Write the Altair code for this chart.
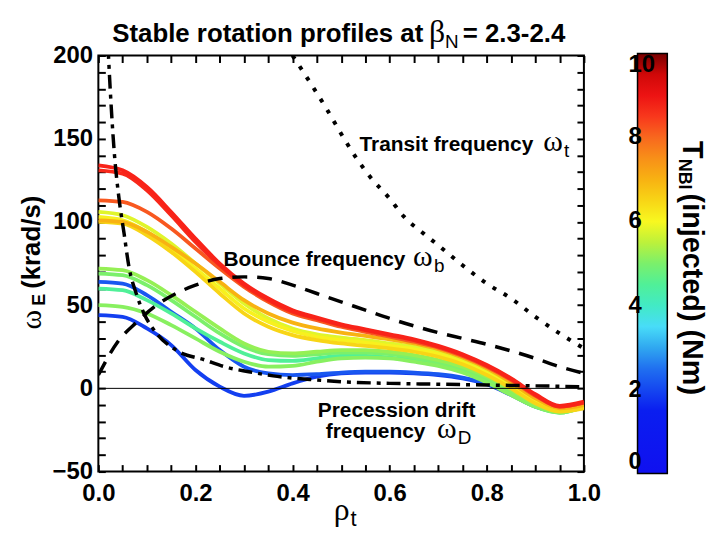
import altair as alt
import pandas as pd

# ---------------- data ----------------
rho = [0.0, 0.05, 0.1, 0.15, 0.2, 0.25, 0.3, 0.35, 0.4, 0.45, 0.5,
       0.55, 0.6, 0.65, 0.7, 0.75, 0.8, 0.85, 0.9, 0.95, 1.0]

# rotation profiles omega_E (krad/s) and injected NBI torque (Nm)
blue_44 = [44, 43, 36, 26, 11, 1, -4.5, -2, 3, 7, 9, 9.5, 9.5, 9, 8, 6, 2.5, -4, -11, -14, -11]
blue_64 = [64, 63, 56, 46, 36, 23, 13, 9, 8, 8.5, 9.5, 10, 10, 9.5, 8.5, 6.5, 3, -3, -10, -14, -11]
lgreen_60 = [60, 59, 53, 45, 36, 28, 21, 17, 16.5, 18, 19.5, 19.5, 18.5, 17, 14.5, 10.5, 4.5, -3.5, -11, -14.5, -11]
green_69 = [69, 68, 62, 53, 43, 33, 25, 20.5, 19.5, 20.5, 21.5, 21.5, 20.5, 18.5, 15.5, 11.5, 5.5, -2.5, -10.5, -14.5, -11]
green_50 = [50, 49, 45, 38, 30, 22, 16, 13, 13.5, 16, 18, 18.5, 18, 16, 13.5, 9.5, 3.5, -4, -11, -14.5, -11]
green_72 = [72, 71, 65, 56, 46, 36, 27, 22, 21, 22, 23, 23, 22, 20, 17, 13, 7, -1, -9.5, -14, -11]
yellow_106 = [106, 104, 97, 87, 75, 63, 51, 42, 36, 32.5, 30.5, 29, 27, 25, 22, 17, 10.5, 2, -7, -13, -11]
yellow_103 = [103, 101, 94, 84, 72, 60, 48, 40, 34.5, 31, 29, 27.5, 25.5, 23.5, 20.5, 15.5, 9, 1, -8, -13.5, -11.5]
yellow_100 = [100, 99, 92, 82, 70, 57, 45, 37, 32, 29, 27, 25.5, 24, 22, 19, 14.5, 8, 0, -9, -14, -12]
gold_101 = [101, 100, 94, 85, 75, 64, 53, 45, 39.5, 36, 33.5, 31.5, 29.5, 27, 23.5, 18.5, 12, 3.5, -6, -12, -10]
orange_113 = [113, 112, 106, 96, 84, 72, 61, 52, 45, 41, 37, 34, 31, 28, 24.5, 19.5, 13, 5, -4.5, -11, -8.5]
red_131 = [131, 129, 119, 104, 88, 74, 62, 53, 46, 42, 38, 35, 32, 29, 25, 20, 13.5, 5.5, -4, -11, -8.5]
red_134 = [134, 131, 121, 106, 90, 75, 63, 54, 47, 42.5, 38.5, 35.5, 32.5, 29.5, 25.5, 20.5, 14, 6, -3.5, -10.5, -8]

profile_names = ["blue_44", "blue_64", "lgreen_60", "green_69", "green_50", "green_72",
                 "yellow_106", "yellow_103", "yellow_100", "gold_101", "orange_113",
                 "red_131", "red_134"]
profile_values = [blue_44, blue_64, lgreen_60, green_69, green_50, green_72,
                  yellow_106, yellow_103, yellow_100, gold_101, orange_113,
                  red_131, red_134]
profile_torque = [1.9, 2.2, 4.5, 5.0, 5.1, 5.2, 5.8, 6.1, 6.5, 7.0, 8.2, 8.65, 8.7]

# precession drift frequency (dash-dot)
prec_rho = [0.012, 0.02, 0.033, 0.043, 0.053, 0.063, 0.078, 0.094, 0.12, 0.16, 0.22,
            0.26, 0.31, 0.36, 0.45, 0.5, 0.6, 0.7, 0.8, 0.9, 1.0]
prec_val = [260, 205, 141, 113, 93, 73, 57, 45, 33, 23, 17, 13, 10, 7.5, 5, 4, 3, 2.5, 2, 1.5, 1]

# bounce frequency (dashed)
bounce_rho = [0.0, 0.04, 0.08, 0.12, 0.16, 0.2, 0.25, 0.3, 0.35, 0.4, 0.45, 0.5, 0.55,
              0.6, 0.65, 0.7, 0.75, 0.8, 0.85, 0.9, 0.95, 1.0]
bounce_val = [8, 28, 40, 50, 57, 62, 66, 67, 66, 62, 57, 52, 47, 42, 37.5, 33.5, 30,
              26.5, 22.5, 18, 13, 9]

# transit frequency (dotted)
transit_rho = [0.40, 0.44, 0.47, 0.50, 0.53, 0.56, 0.60, 0.63, 0.67, 0.70, 0.75, 0.80,
               0.85, 0.90, 0.95, 1.0]
transit_val = [200, 182, 168, 153, 139, 127, 114, 103, 93, 86, 74, 63, 54, 43, 33, 24]

# axes ticks
x_ticks = [0.0, 0.05, 0.1, 0.15, 0.2, 0.25, 0.3, 0.35, 0.4, 0.45, 0.5, 0.55, 0.6,
           0.65, 0.7, 0.75, 0.8, 0.85, 0.9, 0.95, 1.0]
y_ticks = [-50, -40, -30, -20, -10, 0, 10, 20, 30, 40, 50, 60, 70, 80, 90, 100, 110,
           120, 130, 140, 150, 160, 170, 180, 190, 200]
cbar_ticks = [0, 2, 4, 6, 8, 10]
zero_line = [0]

# colour table of the torque bar
cmap_stops = [0, 1.5, 2.5, 3.0, 3.5, 4.2, 4.8, 5.4, 6.0, 6.8, 7.5, 8.2, 8.8, 9.5, 10]
cmap_colors = ["#1010f0", "#0a1ef0", "#2070f0", "#30a8f0", "#48dcf8", "#40f0b0",
               "#60f080", "#b0f040", "#f8f820", "#f8c010", "#f89018", "#f85820",
               "#f81818", "#d00808", "#780000"]

# ---------------- build ----------------
W, H = 489, 419
SANS = "Liberation Sans"
SERIF = "Liberation Serif"
TICK = 7  # inward tick length in px

rows = []
for name, vals, t in zip(profile_names, profile_values, profile_torque):
    for r, v in zip(rho, vals):
        rows.append({"name": name, "rho": r, "val": v, "T": t})
prof_df = pd.DataFrame(rows)

xs = alt.Scale(domain=[0, 1], nice=False, zero=False)
ys = alt.Scale(domain=[-50, 200], nice=False, zero=False)

common_tick = dict(ticks=True, tickSize={"expr": str(-TICK)}, tickWidth=2,
                   tickColor="black", domain=False, grid=False, title=None)
xaxis = alt.Axis(values=x_ticks, format=".1f", orient="bottom",
                 labelExpr="round(datum.value * 100) % 20 == 0 ? datum.label : ''",
                 labelFont=SANS, labelFontWeight="bold", labelFontSize=24, labelFlush=False,
                 labelColor="black", labelPadding=10 + TICK, **common_tick)
yaxis = alt.Axis(values=y_ticks, orient="left",
                 labelExpr="datum.value % 50 == 0 ? datum.label : ''",
                 labelFont=SANS, labelFontWeight="bold", labelFontSize=24,
                 labelColor="black", labelPadding=6 + TICK, **common_tick)
xaxis_top = alt.Axis(values=x_ticks, orient="top", labels=False, **common_tick)
yaxis_right = alt.Axis(values=y_ticks, orient="right", labels=False, **common_tick)


def X(f="rho"):
    return alt.X(f + ":Q", scale=xs, axis=xaxis)


def Y(f="val"):
    return alt.Y(f + ":Q", scale=ys, axis=yaxis)


cscale = alt.Scale(domain=cmap_stops, range=cmap_colors, interpolate="rgb")

lines = alt.Chart(prof_df).mark_line(strokeWidth=3.8, interpolate="monotone", clip=True).encode(
    x=X(), y=Y(),
    color=alt.Color("T:Q", scale=cscale, legend=alt.Legend(
        orient="none", legendX=543, legendY=-2, direction="vertical",
        gradientLength=423, gradientThickness=30, title=None, values=cbar_ticks,
        labelFont=SANS, labelFontWeight="bold", labelFontSize=24, labelColor="black",
        labelOffset={"expr": "-39"}, labelAlign="right", gradientStrokeColor="black",
        gradientStrokeWidth=1.5, padding=0)),
    detail="name:N",
)

prec = alt.Chart(pd.DataFrame({"rho": prec_rho, "val": prec_val})).mark_line(
    color="black", strokeWidth=3.5, strokeDash=[14, 6, 4, 6], interpolate="monotone", clip=True
).encode(x=X(), y=Y())
bounce = alt.Chart(pd.DataFrame({"rho": bounce_rho, "val": bounce_val})).mark_line(
    color="black", strokeWidth=3.5, strokeDash=[15, 10], interpolate="monotone", clip=True
).encode(x=X(), y=Y())
transit = alt.Chart(pd.DataFrame({"rho": transit_rho, "val": transit_val})).mark_line(
    color="black", strokeWidth=4, strokeDash=[4, 9], interpolate="monotone", clip=True
).encode(x=X(), y=Y())

zero = alt.Chart(pd.DataFrame({"val": zero_line})).mark_rule(color="black", strokeWidth=1).encode(
    y=Y(), x=alt.value(0), x2=alt.value(W))

# invisible layer that only carries the mirrored top / right tick axes
mirror = alt.Chart(pd.DataFrame({"rho": [0.5], "val": zero_line})).mark_point(opacity=0).encode(
    x=alt.X("rho:Q", scale=xs, axis=xaxis_top),
    y=alt.Y("val:Q", scale=ys, axis=yaxis_right))


def label(text, x, y, size, font=SANS, weight="bold", angle=0, align="left",
          baseline="alphabetic"):
    return alt.Chart(alt.Data(values=[{}])).mark_text(
        text=text, font=font, fontSize=size, fontWeight=weight, angle=angle,
        align=align, baseline=baseline, color="black"
    ).encode(x=alt.value(x), y=alt.value(y))


texts = [
    # title
    label("Stable rotation profiles at", 14, -14, 26),
    label("\u03b2", 333, -14, 32, font=SERIF, weight="normal"),
    label("N", 349, -8, 19, weight="normal"),
    label("= 2.3-2.4", 367, -14, 26),
    # transit
    label("Transit frequency", 263, 96, 21),
    label("\u03c9", 448, 96, 30, font=SERIF, weight="normal"),
    label("t", 469, 102, 19, weight="normal"),
    # bounce
    label("Bounce frequency", 126, 212, 21),
    label("\u03c9", 317, 212, 30, font=SERIF, weight="normal"),
    label("b", 338, 218, 19, weight="normal"),
    # precession
    label("Precession drift", 221, 364, 21),
    label("frequency", 229, 385, 21),
    label("\u03c9", 341, 385, 30, font=SERIF, weight="normal"),
    label("D", 362, 391, 19, weight="normal"),
    # x title
    label("\u03c1", 237, 468, 32, font=SERIF, weight="normal"),
    label("t", 254, 474, 22, weight="normal"),
    # y title
    label("\u03c9", -58, 276, 30, font=SERIF, weight="normal", angle=270),
    label("E", -54, 252, 18, weight="bold", angle=270),
    label("(krad/s)", -59, 235, 26, weight="bold", angle=270),
    # colour bar title
    label("T", 589, 86, 29, weight="bold", angle=90),
    label("NBI", 585, 104, 18, weight="bold", angle=90),
    label("(injected) (Nm)", 589, 139, 29, weight="bold", angle=90),
]

inner = alt.layer(lines, zero, prec, bounce, transit, *texts)

chart = alt.layer(inner, mirror).resolve_axis(x="independent", y="independent").properties(
    width=W, height=H, autosize=alt.AutoSizeParams(type="none"),
    padding={"left": 91, "top": 46, "right": 128, "bottom": 60},
).configure_view(stroke="black", strokeWidth=2)

chart.save("out.html", embed_options={"renderer": "svg", "actions": False})
